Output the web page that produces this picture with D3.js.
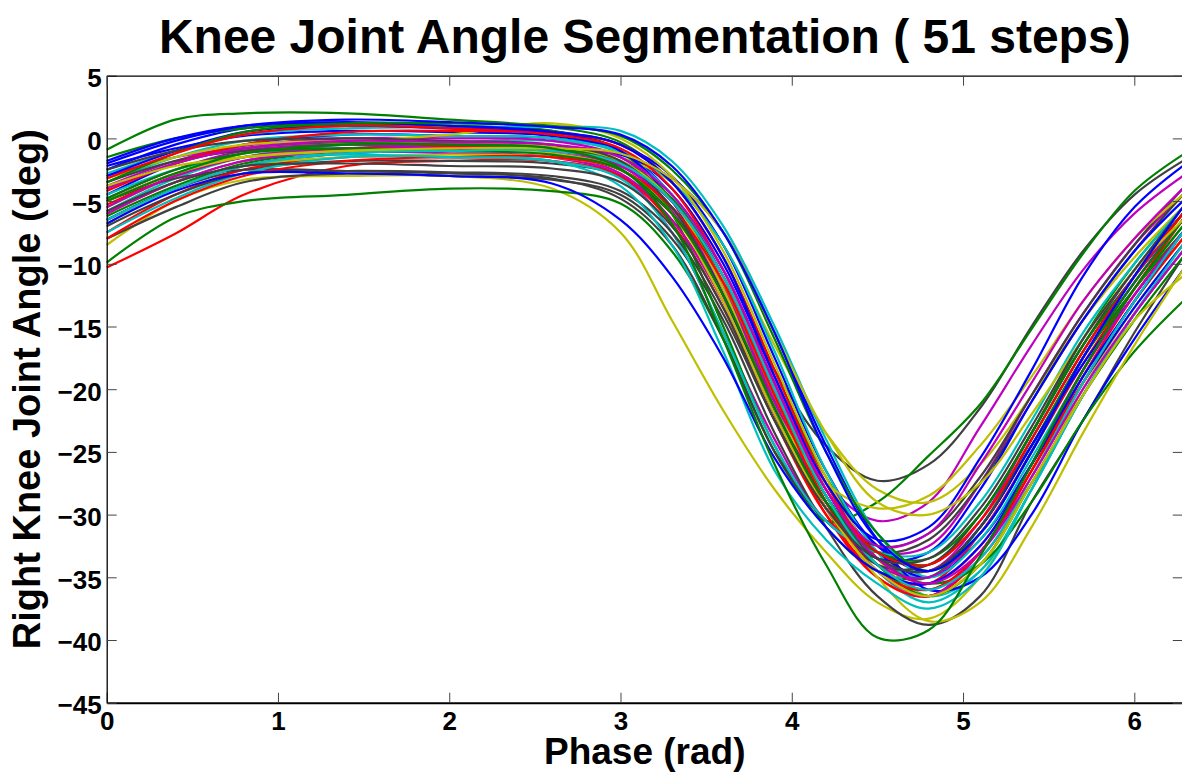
<!DOCTYPE html>
<html>
<head>
<meta charset="utf-8">
<script src="https://cdn.jsdelivr.net/npm/d3@7"></script>
<style>
body { margin: 0; background: #fff; }
svg { display: block; font-family: "Liberation Sans", Arial, Helvetica, sans-serif; font-weight: bold; }
</style>
</head>
<body>
<svg id="chart"></svg>
<script>
let phase = [0, 0.4, 0.8, 1.4, 2.0, 2.6, 3.0, 3.3, 3.6, 3.9, 4.2, 4.5, 4.8, 5.1, 5.4, 5.7, 6.0, 6.2832]

let xTicks = [0, 1, 2, 3, 4, 5, 6]
let yTicks = [-45, -40, -35, -30, -25, -20, -15, -10, -5, 0, 5]

// matlab default line colour order
let lineColors = ['#0000ff', '#008000', '#ff0000', '#00bfbf', '#bf00bf', '#bfbf00', '#404040']

// knee angle (deg) per step
let s01 = [-2.2, -0.8, 0.2, 0.6, 0.5, 0.2, -1.0, -4.5, -10.5, -19.5, -28, -33.5, -35, -31, -24.5, -17.5, -11.5, -6.5]
let s02 = [-0.9, 1.5, 2.0, 2.0, 1.5, 0.9, -0.3, -3.5, -9.5, -18.5, -27, -32.5, -34, -30, -23.5, -16, -10, -5.5]
let s03 = [-10.3, -7.6, -4.5, -2.2, -1.8, -1.8, -3.0, -6.8, -13.5, -22.5, -30, -34.5, -35.5, -31.5, -25, -18, -12, -7.5]
let s04 = [-5.5, -3.0, -1.5, -0.8, -0.6, -0.8, -1.8, -5.0, -11.5, -20.5, -28.5, -33.5, -35, -31, -24, -17, -11, -6]
let s05 = [-3.0, -1.5, -0.8, -0.5, -0.4, -0.6, -2.0, -5.8, -12.5, -21, -27.5, -30.5, -29, -23, -16.5, -10.5, -6, -3]
let s06 = [-8.5, -5.0, -3.3, -3.0, -3.0, -4.0, -7.5, -14.5, -21.7, -28, -33, -37, -38.3, -35, -28, -20, -13.5, -8.5]
let s07 = [-6.5, -4.0, -2.5, -1.8, -1.8, -2.0, -3.0, -6.0, -11.5, -18.5, -24.5, -27.3, -26, -21.5, -15, -9, -4.5, -1.8]
let s08 = [-4.5, -2.0, -0.5, 0.3, 0.2, 0.0, -1.0, -4.0, -10, -19, -27.5, -33, -35, -32, -26, -19.5, -13.5, -8.5]
let s09 = [-9.9, -6.3, -5.0, -4.5, -4.0, -4.2, -5.2, -9.0, -16.0, -25.0, -31, -34.5, -35, -31, -24.5, -17.5, -12, -7.5]
let s10 = [-6.0, -3.5, -1.8, -1.0, -1.0, -1.2, -2.5, -6.0, -12.5, -21.5, -29.5, -35, -36.5, -33, -26.5, -19.5, -13, -8]
let s11 = [-3.5, -1.5, -0.2, 0.3, 0.2, 0.0, -1.2, -4.5, -11, -20.5, -29, -34.5, -37, -34.5, -28, -20.5, -14, -9]
let s12 = [-5.0, -2.8, -1.5, -1.0, -1.2, -1.5, -3.0, -7.5, -15.5, -24, -30.5, -33, -32.5, -27.5, -20.5, -14, -8.5, -4.5]
let s13 = [-4.0, -2.0, -0.8, -0.5, -0.5, -0.8, -1.5, -3.5, -8.5, -16.5, -23.5, -28, -29, -26, -20.5, -14.5, -9.5, -5.5]
let s14 = [-8.0, -5.5, -3.5, -2.8, -3.0, -3.3, -4.5, -8.0, -14.5, -23.5, -31, -36.5, -38.8, -36.5, -29, -22.5, -15.5, -9.5]
let s15 = [-2.5, -0.5, 0.8, 1.2, 1.0, 0.6, -0.5, -3.0, -8.5, -17.5, -26.5, -32.5, -34.5, -31, -24.5, -18, -12.5, -7.5]
let s16 = [-1.5, 0.0, 0.8, 1.2, 1.0, 0.6, -1.0, -6.0, -15, -24.5, -30.5, -29, -25.3, -21.2, -15.2, -9.2, -4.2, -1.3]
let s17 = [-7.5, -4.5, -2.5, -1.5, -1.5, -1.8, -3.0, -6.5, -13, -22, -30, -35, -36.5, -33.5, -27.5, -20.5, -14, -9]
let s18 = [-5.8, -3.2, -1.5, -0.5, -0.3, -0.2, -1.0, -3.5, -8.5, -17, -26.5, -33, -36.5, -34.5, -28, -20.5, -14, -9]
let s19 = [-3.8, -1.8, -0.6, 0.0, 0.0, -0.2, -1.5, -5.0, -11.5, -20.5, -28.5, -33.5, -34.5, -30.5, -23.5, -16.5, -11, -6.5]
let s20 = [-5.5, -3.0, -1.2, -0.3, 0.3, 1.2, 0.0, -3.0, -9.0, -18.0, -27.0, -33.5, -36.5, -34, -27, -19.5, -13, -8]
let s21 = [-5.0, -3.2, -2.5, -2.6, -2.8, -3.2, -4.8, -8.5, -16, -25, -30.5, -33, -32, -27.5, -21, -14.5, -9, -4.5]
let s22 = [-6.5, -4.0, -2.2, -1.2, -1.0, -1.0, -1.3, -3.2, -7.5, -15.5, -24.5, -32, -36, -35, -30, -22.5, -16, -10.5]
let s23 = [-4.0, -2.0, -0.8, -0.3, -0.5, -0.8, -2.0, -5.0, -11.5, -20.5, -28.5, -33.5, -35.5, -34, -29, -22.5, -17, -13]
let s24 = [-5.3, -3.0, -1.5, -0.8, -0.6, -0.8, -2.0, -5.5, -12, -21, -29, -34, -36, -33, -26.5, -19, -12.5, -7.5]
let s25 = [-2.8, -1.0, 0.3, 0.8, 0.9, 0.9, 0.6, -1.8, -7.0, -15, -24, -31.5, -35, -32, -25.5, -18.5, -12, -7]
let s26 = [-4.8, -2.5, -1.0, -0.5, -0.8, -1.3, -2.8, -6.5, -13, -22, -29.5, -34, -35, -31.5, -25, -17.5, -11.5, -6.5]
let s27 = [-6.8, -4.0, -2.2, -1.5, -1.3, -1.5, -2.5, -5.5, -11.5, -20.5, -29, -35, -38.5, -37, -31, -23.5, -16.5, -10.5]
let s28 = [-3.5, -1.8, -1.0, -0.8, -1.0, -1.2, -2.5, -5.5, -12, -21, -29, -32.5, -31.5, -27, -20.5, -14, -8.5, -4]
let s29 = [-1.8, 0.0, 1.0, 1.3, 1.0, 0.5, -1.0, -5.0, -12.5, -22, -29.5, -33.5, -33, -28, -21, -14.5, -9, -5]
let s30 = [-6.2, -3.8, -2.0, -1.0, -0.8, -0.8, -1.8, -4.8, -11, -20, -28.5, -34, -36.5, -34, -27.5, -20.5, -14.5, -9.5]
let s31 = [-4.2, -2.0, -0.5, 0.5, 0.6, 0.4, -0.5, -3.5, -9.5, -18.5, -27.5, -33.5, -35.5, -32.5, -26, -18.5, -12, -6.5]
let s32 = [-7.5, -4.8, -2.8, -1.5, -1.5, -1.8, -3.2, -7.5, -15.5, -24.5, -30.5, -33, -33, -29, -22.5, -15.5, -10, -5.5]
let s33 = [-5.5, -3.0, -1.5, -0.8, -0.8, -1.0, -2.2, -5.5, -12, -21, -29, -34.5, -36.5, -33, -26, -18.5, -12.5, -7.5]
let s34 = [-3.2, -1.5, -0.5, -0.2, -0.3, -0.6, -1.8, -5.0, -12, -21.5, -27.5, -29.5, -28.5, -24.5, -19, -13, -8, -4.5]
let s35 = [-7.0, -4.5, -2.8, -2.6, -2.7, -3.0, -4.2, -7.5, -14, -22.5, -29.5, -34, -34, -30, -23.5, -16.5, -10.5, -6]
let s36 = [-3.0, -1.0, 0.5, 1.0, 0.8, 0.5, -0.5, -3.5, -9.5, -19, -27.5, -32, -31, -25.5, -18.5, -11, -5.5, -2.2]
let s37 = [-3.5, -1.2, 0.5, 1.2, 1.2, 1.0, 0.2, -2.5, -7.5, -16, -25, -31.5, -34.5, -31.5, -25, -17.5, -11.5, -6.5]
let s38 = [-8.0, -5.0, -3.0, -1.8, -1.5, -1.5, -2.5, -5.5, -11.5, -20.5, -29, -34.5, -36, -33, -26.5, -19.5, -13, -8]
let s39 = [-4.5, -2.5, -1.5, -1.3, -1.5, -1.8, -3.8, -8.5, -17, -26.5, -32, -35.5, -37.5, -35, -28, -20.5, -14, -8.5]
let s40 = [-6.0, -3.5, -1.8, -1.0, -1.0, -1.2, -2.2, -5.0, -11, -20, -28, -32.5, -31.5, -26, -19.5, -13, -8, -4]
let s41 = [-5.0, -2.8, -1.5, -1.0, -1.0, -1.2, -2.5, -6.0, -13, -22, -29.5, -34.5, -36.5, -34, -27.5, -20.5, -14.5, -11]
let s42 = [-2.5, -1.0, -0.2, 0.0, -0.2, -0.5, -1.8, -5.5, -12.5, -21.5, -29, -33.5, -34.5, -31, -24, -17, -11, -6]
let s43 = [-6.8, -4.2, -2.8, -2.8, -3.0, -3.6, -6.5, -11, -17.5, -25.5, -31, -34.5, -35.5, -32.5, -26, -19, -13, -7.5]
let s44 = [-4.8, -2.5, -1.2, -0.8, -1.0, -1.3, -2.5, -6.0, -12.5, -21.5, -29, -33, -33.5, -30, -23.5, -16.5, -11, -6]
let s45 = [-3.2, -1.2, 0.3, 1.0, 0.8, 0.3, -0.8, -4.0, -10.5, -19.5, -28, -33, -34, -30.5, -24, -17, -11, -6]
let s46 = [-6.5, -4.0, -2.2, -1.2, -1.0, -1.0, -2.0, -5.0, -11, -20, -28.5, -34, -36, -33.5, -27, -19.5, -13, -7.5]
let s47 = [-4.0, -2.0, -0.8, -0.2, -0.3, -0.5, -1.5, -4.5, -10.5, -19.5, -28, -33.5, -35.5, -33, -27, -20, -14, -9]
let s48 = [-3.8, -2.2, -1.5, -1.0, -0.8, -0.8, -1.2, -3.2, -7.5, -15.5, -23.5, -29, -30, -27.5, -22, -16, -10.5, -6.5]
let s49 = [-5.8, -3.5, -2.2, -2.0, -2.2, -2.4, -3.5, -7.0, -13.5, -22.5, -29.5, -33.5, -33.5, -29.5, -23, -16, -10.5, -5.5]
let s50 = [-2.0, -0.2, 1.0, 1.5, 1.3, 0.9, 0.3, -2.2, -7.5, -15.5, -25, -32, -34.5, -31.5, -25, -17.5, -11, -5.5]
let s51 = [-5.0, -2.8, -1.2, -0.5, -0.5, -0.8, -2.4, -6.8, -16, -26, -34, -39.8, -39.2, -33.3, -26, -18.5, -12, -7]

let steps = [s01, s02, s03, s04, s05, s06, s07, s08, s09, s10,
             s11, s12, s13, s14, s15, s16, s17, s18, s19, s20,
             s21, s22, s23, s24, s25, s26, s27, s28, s29, s30,
             s31, s32, s33, s34, s35, s36, s37, s38, s39, s40,
             s41, s42, s43, s44, s45, s46, s47, s48, s49, s50, s51]

let width = 1182
let height = 773
let axLeft = 106.7
let axRight = 1182.8
let axTop = 75.7
let axBottom = 702.7

let svg = d3.select('#chart')
    .attr('width', width)
    .attr('height', height)

let xScale = d3.scaleLinear()
    .domain([0, 2 * Math.PI])
    .range([axLeft, axRight])

let yScale = d3.scaleLinear()
    .domain([-45, 5])
    .range([axBottom, axTop])

// the traces
let line = d3.line()
    .x((d, i) => xScale(phase[i]))
    .y((d) => yScale(d))
    .curve(d3.curveCatmullRom.alpha(0.5))

svg.append('g')
    .selectAll('path')
    .data(steps)
    .enter()
    .append('path')
    .attr('d', (d) => line(d))
    .attr('fill', 'none')
    .attr('stroke', (d, i) => lineColors[i % lineColors.length])
    .attr('stroke-width', 2.2)
    .attr('stroke-linejoin', 'round')

// axes, ticks point inward on all four sides
let xAxis = d3.axisBottom(xScale).tickValues(xTicks).tickFormat(d3.format('d'))
    .tickSizeInner(-10).tickSizeOuter(0).tickPadding(9)
let yAxis = d3.axisLeft(yScale).tickValues(yTicks).tickFormat(d3.format('d'))
    .tickSizeInner(-10).tickSizeOuter(0).tickPadding(5)
let xTop = d3.axisTop(xScale).tickValues(xTicks).tickFormat('')
    .tickSizeInner(-10).tickSizeOuter(0)
let yRight = d3.axisRight(yScale).tickValues(yTicks).tickFormat('')
    .tickSizeInner(-10).tickSizeOuter(0)

let gx = svg.append('g').attr('transform', 'translate(0,' + axBottom + ')').call(xAxis)
let gy = svg.append('g').attr('transform', 'translate(' + axLeft + ',0)').call(yAxis)
let gt = svg.append('g').attr('transform', 'translate(0,' + axTop + ')').call(xTop)
let gr = svg.append('g').attr('transform', 'translate(' + axRight + ',0)').call(yRight)

for (let g of [gx, gy, gt, gr]) {
    g.attr('font-family', null).attr('font-size', null)
    g.select('.domain').attr('stroke', '#000').attr('stroke-width', 1.3)
    g.selectAll('.tick line').attr('stroke', '#444').attr('stroke-width', 1)
}
gx.select('.domain').attr('stroke-width', 2)

gx.selectAll('.tick text').attr('font-size', 26).attr('fill', '#000')
gy.selectAll('.tick text').attr('font-size', 26).attr('fill', '#000').attr('dy', '0.42em')

// title and labels
svg.append('text')
    .attr('x', (axLeft + axRight) / 2)
    .attr('y', 53)
    .attr('text-anchor', 'middle')
    .attr('font-size', 48)
    .text('Knee Joint Angle Segmentation ( 51 steps)')

svg.append('text')
    .attr('x', (axLeft + axRight) / 2)
    .attr('y', 764)
    .attr('text-anchor', 'middle')
    .attr('font-size', 37)
    .text('Phase (rad)')

svg.append('text')
    .attr('transform', 'translate(40,' + (axTop + axBottom) / 2 + ') rotate(-90)')
    .attr('text-anchor', 'middle')
    .attr('font-size', 38)
    .text('Right Knee Joint Angle (deg)')
</script>
</body>
</html>
